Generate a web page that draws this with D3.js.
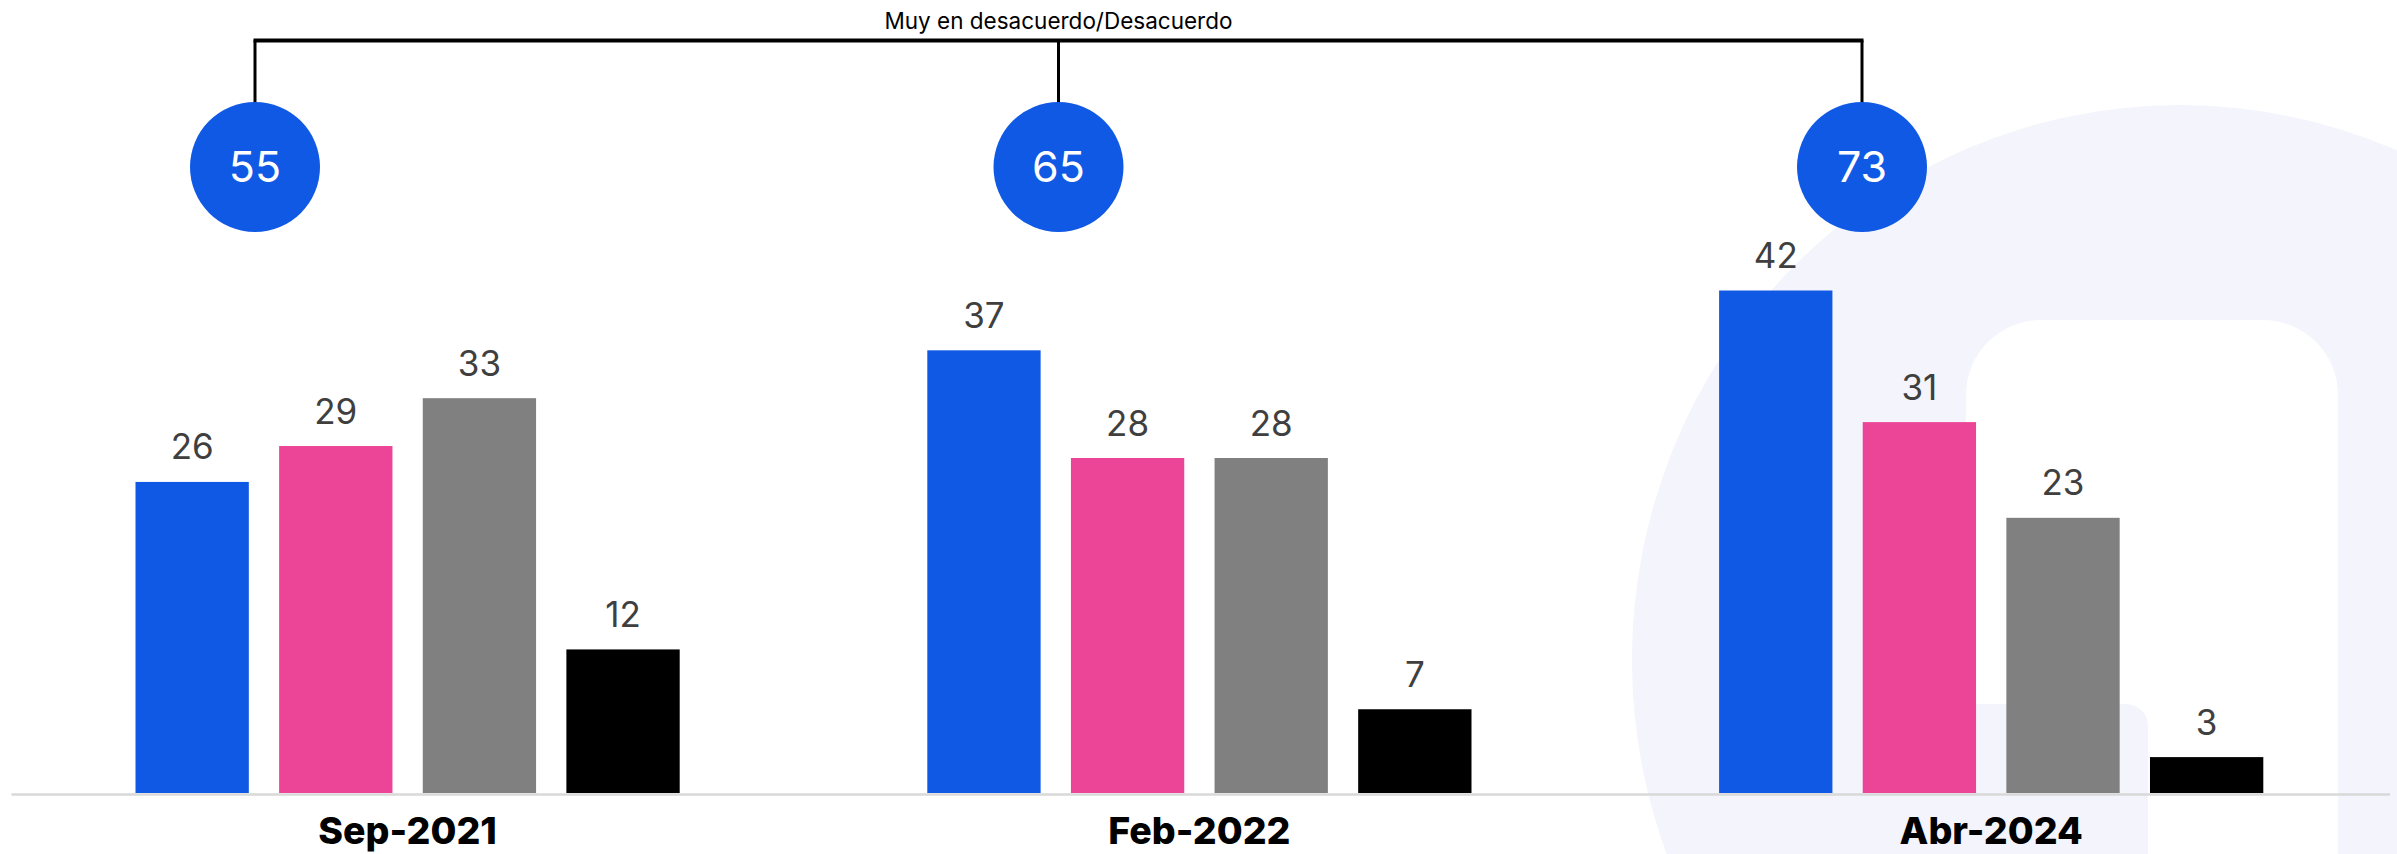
<!DOCTYPE html>
<html>
<head>
<meta charset="utf-8">
<script src="https://cdn.jsdelivr.net/npm/d3@7/dist/d3.min.js"></script>
<style>
  html, body { margin: 0; padding: 0; background: #ffffff; }
  svg { display: block; font-family: Inter, "Noto Sans", sans-serif; }
</style>
</head>
<body>
<svg id="chart" width="2397" height="854"></svg>
<script>
// ---- data ----
const categories = ["Sep-2021", "Feb-2022", "Abr-2024"];
const seriesNames = ["Muy en desacuerdo", "Desacuerdo", "De acuerdo", "Muy de acuerdo"];
const seriesColors = ["#1059E5", "#EC4496", "#808080", "#000000"];
const valuesMuyDesacuerdo = [26, 37, 42];
const valuesDesacuerdo    = [29, 28, 31];
const valuesDeAcuerdo     = [33, 28, 23];
const valuesMuyDeAcuerdo  = [12, 7, 3];
const totalsLabel = "Muy en desacuerdo/Desacuerdo";
const totals = [55, 65, 73];

const seriesValues = [valuesMuyDesacuerdo, valuesDesacuerdo, valuesDeAcuerdo, valuesMuyDeAcuerdo];

const svg = d3.select("#chart");

// ---- background watermark ----
const bg = svg.append("g");
bg.append("ellipse").attr("cx", 2180).attr("cy", 660).attr("rx", 548).attr("ry", 555).attr("fill", "#F3F4FC");
bg.append("rect").attr("x", 1966).attr("y", 320).attr("width", 372).attr("height", 620).attr("rx", 75).attr("fill", "#ffffff");
bg.append("rect").attr("x", 1930).attr("y", 704).attr("width", 218).attr("height", 220).attr("rx", 22).attr("fill", "#F3F4FC");

// ---- scales ----
const x0 = d3.scaleBand().domain(categories).range([135.5, 2263.3]).paddingInner(0.3127).paddingOuter(0);
const x1 = d3.scaleBand().domain(seriesNames).range([0, x0.bandwidth()]).paddingInner(0.211).paddingOuter(0);
const y = d3.scaleLinear().domain([0, 42]).range([793, 290.5]);
const xc = d3.scalePoint().domain(categories).range([255, 1862]);

// ---- axis baseline ----
const xAxis = svg.append("g")
  .attr("transform", `translate(0,${y(0) + 1.5})`)
  .call(d3.axisBottom(x0).tickSize(0).tickFormat(""));
xAxis.select(".domain").attr("d", "M11.5,0H2390").attr("stroke", "#D9D9D9").attr("stroke-width", 2.5);

// ---- bars ----
const rows = [];
categories.forEach((c, i) => seriesNames.forEach((s, j) => rows.push({cat: c, series: s, value: seriesValues[j][i], color: seriesColors[j]})));

const groups = svg.append("g");
groups.selectAll("rect.bar").data(rows).join("rect")
  .attr("class", "bar")
  .attr("x", d => x0(d.cat) + x1(d.series))
  .attr("y", d => y(d.value))
  .attr("width", x1.bandwidth())
  .attr("height", d => y(0) - y(d.value))
  .attr("fill", d => d.color);

groups.selectAll("text.val").data(rows).join("text")
  .attr("class", "val")
  .attr("x", d => x0(d.cat) + x1(d.series) + x1.bandwidth() / 2)
  .attr("y", d => y(d.value) - 22.5)
  .attr("text-anchor", "middle")
  .attr("font-size", 35)
  .attr("fill", "#3F3F3F")
  .text(d => d.value);

// ---- category labels ----
svg.append("g").selectAll("text.cat").data(categories).join("text")
  .attr("class", "cat")
  .attr("x", d => x0(d) + x0.bandwidth() / 2)
  .attr("y", 844)
  .attr("text-anchor", "middle")
  .attr("font-size", 37.5)
  .attr("font-weight", 800)
  .attr("fill", "#000")
  .text(d => d);

// ---- bracket & circles ----
const br = svg.append("g");
const lineY = 40.5, circR = 65, circY = 167;
br.append("line")
  .attr("x1", xc(categories[0]) - 1.5).attr("x2", xc(categories[categories.length - 1]) + 1.5)
  .attr("y1", lineY).attr("y2", lineY)
  .attr("stroke", "#000").attr("stroke-width", 4);
br.selectAll("line.v").data(categories).join("line")
  .attr("class", "v")
  .attr("x1", d => xc(d)).attr("x2", d => xc(d))
  .attr("y1", lineY).attr("y2", circY - circR + 2)
  .attr("stroke", "#000").attr("stroke-width", 3);
br.append("text")
  .attr("x", xc(categories[1]))
  .attr("y", 28.5)
  .attr("text-anchor", "middle")
  .attr("font-size", 22.5)
  .attr("fill", "#000")
  .text(totalsLabel);
br.selectAll("circle").data(categories).join("circle")
  .attr("cx", d => xc(d)).attr("cy", circY).attr("r", circR)
  .attr("fill", "#1059E5");
br.selectAll("text.tot").data(categories).join("text")
  .attr("class", "tot")
  .attr("x", d => xc(d)).attr("y", circY + 15)
  .attr("text-anchor", "middle")
  .attr("font-size", 43)
  .attr("fill", "#fff")
  .text((d, i) => totals[i]);
</script>
</body>
</html>
